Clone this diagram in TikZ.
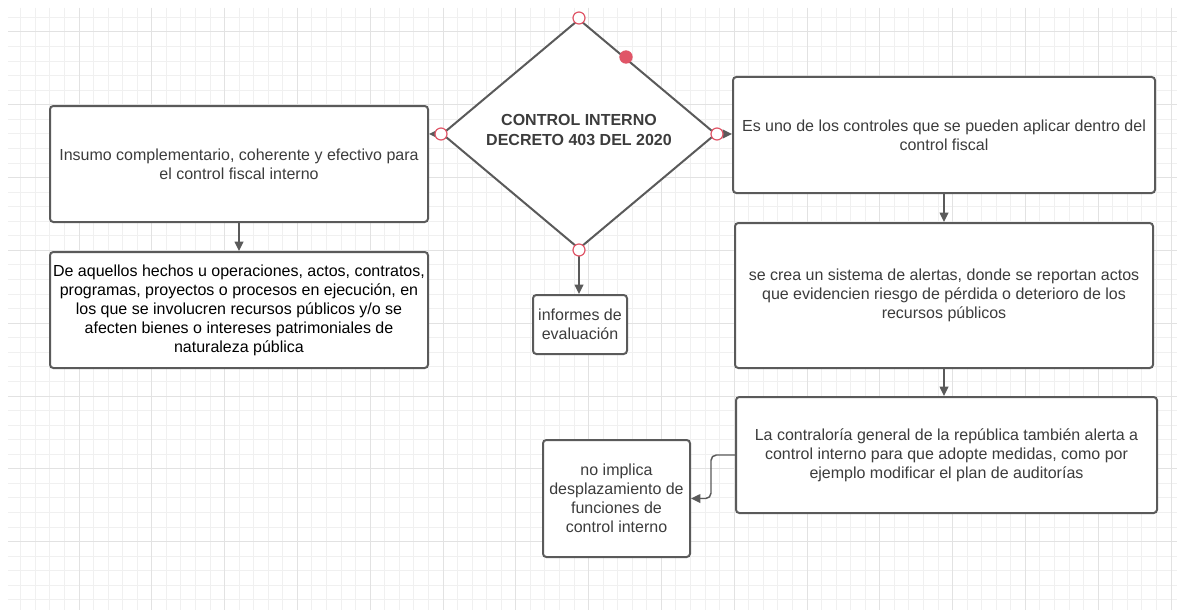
\documentclass[tikz,border=0pt]{standalone}
\usepackage{fontspec}
\setmainfont{Liberation Sans}
\usetikzlibrary{arrows.meta,shapes.geometric}
\definecolor{edge}{HTML}{5A5A5A}
\definecolor{txt}{HTML}{3C3C3C}
\definecolor{gridminor}{HTML}{F0F0F0}
\definecolor{gridmajor}{HTML}{E2E2E2}
\definecolor{dotred}{HTML}{E05567}
\begin{document}
\begin{tikzpicture}[x=0.75pt,y=-0.75pt,
  box/.style={draw=edge, line width=1.5pt, rounded corners=2.5pt, fill=white, align=center, inner sep=0pt, font=\fontsize{12}{14.3}\selectfont, text=txt},
  conn/.style={draw=edge, line width=1.1pt, -{Triangle[length=7pt,width=6.5pt]}},
  port/.style={circle, draw=dotred, fill=white, line width=0.9pt, minimum size=9pt, inner sep=0pt},
  hotdot/.style={circle, fill=dotred, minimum size=10pt, inner sep=0pt},
]
\useasboundingbox (0,0) rectangle (1177,610);
\fill[white] (0,0) rectangle (1177,610);
% grid
\begin{scope}
\clip (8,8) rectangle (1177,610);
\foreach \k in {-5,...,75} \draw[gridminor, line width=0.75pt] ({79+\k*14.56},8) -- ({79+\k*14.56},610);
\foreach \k in {-2,...,40} \draw[gridminor, line width=0.75pt] (8,{32+\k*14.56}) -- (1177,{32+\k*14.56});
\foreach \k in {-1,...,15} \draw[gridmajor, line width=0.75pt] ({79+\k*72.8},8) -- ({79+\k*72.8},610);
\foreach \k in {-1,...,8} \draw[gridmajor, line width=0.75pt] (8,{32+\k*72.8}) -- (1177,{32+\k*72.8});
\end{scope}

% diamond
\node[diamond, draw=edge, line width=1.5pt, fill=white, minimum width=205.5pt, minimum height=172.5pt, inner sep=0pt] (D) at (579,134) {};
\node[font=\fontsize{12}{15}\selectfont\bfseries, text=txt, align=center] (Dt) at (579,130) {CONTROL INTERNO\\DECRETO 403 DEL 2020};

% boxes
\node[box, minimum width=283.5pt, minimum height=87pt] (L1) at (239,164) {Insumo complementario, coherente y efectivo para\\el control fiscal interno};
\node[box, minimum width=283.5pt, minimum height=87pt, text=black] (L2) at (239,310) {De aquellos hechos u operaciones, actos, contratos,\\programas, proyectos o procesos en ejecución, en\\los que se involucren recursos públicos y/o se\\afecten bienes o intereses patrimoniales de\\naturaleza pública};
\node[box, minimum width=70.5pt, minimum height=44.25pt] (I) at (580,324.5) {informes de\\evaluación};
\node[box, minimum width=316.5pt, minimum height=87pt] (R1) at (944,135) {Es uno de los controles que se pueden aplicar dentro del\\control fiscal};
\node[box, minimum width=313.5pt, minimum height=108.75pt] (R2) at (944,295.5) {se crea un sistema de alertas, donde se reportan actos\\que evidencien riesgo de pérdida o deterioro de los\\recursos públicos};
\node[box, minimum width=315.75pt, minimum height=87pt] (R3) at (946.5,455) {La contraloría general de la república también alerta a\\control interno para que adopte medidas, como por\\ejemplo modificar el plan de auditorías};
\node[box, minimum width=110.25pt, minimum height=87.75pt] (N) at (616.5,498.5) {no implica\\desplazamiento de\\funciones de\\control interno};

% connectors
\draw[conn] (D.west) -- (D.west -| L1.east);
\draw[conn] (D.east) -- (D.east -| R1.west);
\draw[conn] (D.south) -- (D.south |- I.north);
\draw[conn] (L1.south) -- (L2.north);
\draw[conn] (R1.south) -- (R1.south |- R2.north);
\draw[conn] (R2.south) -- (R2.south |- R3.north);
\draw[conn, rounded corners=4pt] (R3.west) -- ++(-24,0) |- (N.east);

% ports
\node[port] (pN) at (D.north) {};
\node[port] (pS) at (D.south) {};
\node[port] (pW) at (D.west) {};
\node[port] (pE) at (D.east) {};
\node[hotdot] (hd) at (626,57) {};
\end{tikzpicture}
\end{document}
